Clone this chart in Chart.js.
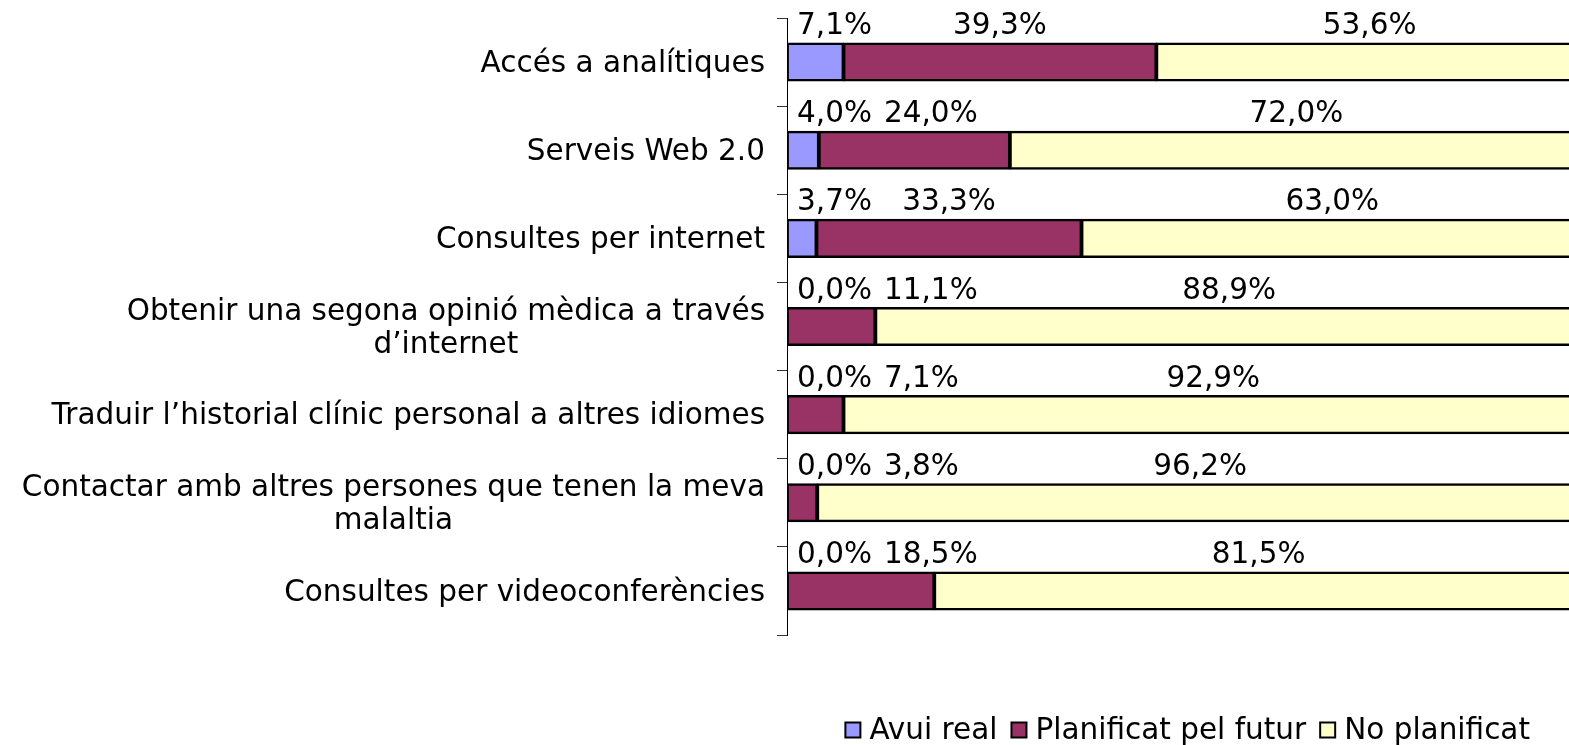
<!DOCTYPE html>
<html>
<head>
<meta charset="utf-8">
<script src="https://cdn.jsdelivr.net/npm/chart.js@4/dist/chart.umd.min.js"></script>
<style>
  html, body { margin: 0; padding: 0; background: #fff; overflow: hidden; }
  #wrap { width: 1584px; height: 745px; }
</style>
</head>
<body>
<div id="wrap"><canvas id="c" width="1584" height="745"></canvas></div>
<script>
const categories = [
  "Accés a analítiques",
  "Serveis Web 2.0",
  "Consultes per internet",
  ["Obtenir una segona opinió mèdica a través", "d’internet"],
  "Traduir l’historial clínic personal a altres idiomes",
  ["Contactar amb altres persones que tenen la meva", "malaltia"],
  "Consultes per videoconferències"
];
const seriesNames = ["Avui real", "Planificat pel futur", "No planificat"];
const avuiReal = [7.1, 4.0, 3.7, 0.0, 0.0, 0.0, 0.0];
const planificat = [39.3, 24.0, 33.3, 11.1, 7.1, 3.8, 18.5];
const noPlanificat = [53.6, 72.0, 63.0, 88.9, 92.9, 96.2, 81.5];
const seriesColors = ["#9999FF", "#993366", "#FFFFCC"];

const FONT = '29.5px "DejaVu Sans"';

function fmt(v) { return v.toFixed(1).replace('.', ',') + '%'; }

const catLabelPlugin = {
  id: 'catLabels',
  afterDraw(chart) {
    const ctx = chart.ctx;
    const ys = chart.scales.y;
    ctx.save();
    ctx.font = FONT;
    ctx.fillStyle = '#000';
    ctx.textBaseline = 'middle';
    ctx.textAlign = 'center';
    const rightEdge = ys.right - 22;
    categories.forEach((lab, i) => {
      const lines = Array.isArray(lab) ? lab : [lab];
      const maxW = Math.max(...lines.map(l => ctx.measureText(l).width));
      const cx = rightEdge - maxW / 2;
      const cy = ys.getPixelForValue(i) + 2;
      const lh = 33;
      lines.forEach((l, k) => {
        ctx.fillText(l, cx, cy + (k - (lines.length - 1) / 2) * lh);
      });
    });
    ctx.restore();
  }
};

const valueLabelPlugin = {
  id: 'valueLabels',
  afterDatasetsDraw(chart) {
    const ctx = chart.ctx;
    const left = chart.chartArea.left;
    ctx.save();
    ctx.font = FONT;
    ctx.fillStyle = '#000';
    ctx.textBaseline = 'alphabetic';
    ctx.textAlign = 'left';
    categories.forEach((_, i) => {
      let prevRight = left - 2;
      chart.data.datasets.forEach((ds, d) => {
        const el = chart.getDatasetMeta(d).data[i];
        const txt = fmt(ds.data[i]);
        const w = ctx.measureText(txt).width;
        const center = (el.x + el.base) / 2;
        let x = center - w / 2;
        if (x < prevRight + 12) x = prevRight + 12;
        const y = el.y - el.height / 2 - 9;
        ctx.fillText(txt, x, y);
        prevRight = x + w;
      });
    });
    ctx.restore();
  }
};

const legendPlugin = {
  id: 'customLegend',
  afterDraw(chart) {
    const ctx = chart.ctx;
    ctx.save();
    ctx.font = FONT;
    ctx.textBaseline = 'middle';
    ctx.textAlign = 'left';
    const box = 15, gapBox = 9, gapItem = 14;
    const items = chart.data.datasets.map(ds => ({ text: ds.label, color: ds.backgroundColor, w: ctx.measureText(ds.label).width }));
    const total = items.reduce((s, it) => s + box + gapBox + it.w, 0) + gapItem * (items.length - 1);
    let x = 1530 - total;
    const cy = 730;
    items.forEach(it => {
      ctx.fillStyle = it.color;
      ctx.fillRect(x, cy - box / 2, box, box);
      ctx.strokeStyle = '#000';
      ctx.lineWidth = 2;
      ctx.strokeRect(x, cy - box / 2, box, box);
      x += box + gapBox;
      ctx.fillStyle = '#000';
      ctx.fillText(it.text, x, cy + 1);
      x += it.w + gapItem;
    });
    ctx.restore();
  }
};

new Chart(document.getElementById('c'), {
  type: 'bar',
  data: {
    labels: categories,
    datasets: [avuiReal, planificat, noPlanificat].map((arr, k) => ({
      label: seriesNames[k],
      data: arr,
      backgroundColor: seriesColors[k],
      borderColor: '#000',
      borderWidth: 2.5,
      borderSkipped: false,
      inflateAmount: 0.6,
      barPercentage: 0.43,
      categoryPercentage: 1.0
    }))
  },
  options: {
    indexAxis: 'y',
    responsive: false,
    animation: false,
    layout: { padding: { top: 18, bottom: 110, right: 1, left: 0 } },
    plugins: { legend: { display: false }, tooltip: { enabled: false } },
    scales: {
      x: { stacked: true, min: 0, max: 100, display: false },
      y: {
        stacked: true,
        grid: { offset: true, drawOnChartArea: false, tickLength: 10, color: '#333', lineWidth: 1 },
        border: { color: '#000', width: 1 },
        ticks: { display: false },
        afterFit(scale) { scale.width = 787; }
      }
    }
  },
  plugins: [catLabelPlugin, valueLabelPlugin, legendPlugin]
});
</script>
</body>
</html>
